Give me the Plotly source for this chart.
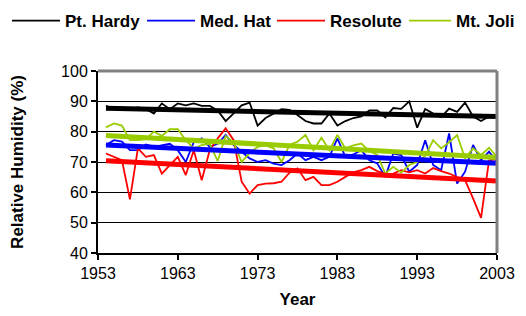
import numpy as np
import plotly.graph_objects as go

years = list(range(1954, 2004))

pt_hardy = [88.5, 87.5, 88, 87.5, 88, 87.5, 86, 89.3, 87.4, 89.3,
            88.7, 89.3, 88.5, 88.5, 87, 83.5, 86, 88.7, 89.6, 82,
            84.5, 86, 87.4, 87.2, 85.5, 83.5, 82.7, 82.7, 86, 82,
            83.5, 84.5, 85, 87, 87, 84.7, 87.8, 87.5, 90, 81.3,
            87.5, 86, 84.8, 87.6, 86.5, 89.6, 85, 83.5, 85, None]

med_hat = [75.6, 77.2, 76.7, 73.9, 73.9, 75.8, 75, 75.5, 76, 73.9,
           70, 76.5, 77.8, 75, 76, 78.9, 75.6, 73.4, 71.2, 70,
           70.6, 69.5, 69, 70.6, 72.8, 70.6, 71.7, 70.6, 71.7, 77.8,
           71.7, 72.5, 73.9, 70.6, 69.5, 65.1, 72.8, 72.3, 66.8, 69,
           77.2, 69, 67.3, 79.4, 62.9, 66.8, 75.6, 70.6, 73.4, 70]

resolute = [72.8, 71.7, 70.6, 57.7, 74.5, 71.7, 72.3, 66.2, 69, 71.7,
            65.7, 73.9, 64, 73.9, 77.8, 81.1, 77.2, 63.5, 59.6, 62.4,
            62.9, 63, 63.5, 66.5, 67.9, 64, 65.1, 62.4, 62.4, 63.5,
            65.1, 66.6, 67.3, 68.4, 67, 66, 66.2, 67.3, 66.6, 67.3,
            66.2, 68, 67, 66.2, 65, 64, 58, 51.6, 70.5, 71]

mt_joli = [81.4, 82.7, 82, 77.2, 77.2, 77.5, 80, 78.6, 80.8, 80.8,
           77.2, 74.5, 75.6, 76, 70.3, 78.6, 76.5, 70, 73, 75,
           75.5, 74.5, 70, 75.6, 76.7, 78.9, 73.9, 78, 73.9, 78.9,
           74.5, 75.5, 76.1, 73.6, 72.3, 66.2, 68.4, 66.5, 69, 70,
           72, 77.2, 74.5, 76.5, 78.9, 71.2, 74.5, 72.3, 74.7, 71.7]

series_names = ["Pt. Hardy", "Med. Hat", "Resolute", "Mt. Joli"]
series_values = [pt_hardy, med_hat, resolute, mt_joli]
series_colors = ["#000000", "#0000FF", "#FF0000", "#99CC00"]
legend_ids = ["legend", "legend", "legend", "legend2"]
legend_widths = [72, 67, 80, None]

x_ticks = [1953, 1963, 1973, 1983, 1993, 2003]

FONT = "Liberation Sans, Arial, sans-serif"

fig = go.Figure()

for name, vals, col, lg, lw in zip(series_names, series_values, series_colors,
                                    legend_ids, legend_widths):
    fig.add_trace(go.Scatter(x=years, y=vals, mode="lines", name=name,
                             line=dict(color=col, width=1.8),
                             connectgaps=False, legend=lg, legendwidth=lw))

# linear trendlines computed from each series
for name, vals, col in zip(series_names, series_values, series_colors):
    xs = np.array([y for y, v in zip(years, vals) if v is not None], dtype=float)
    ys = np.array([v for v in vals if v is not None], dtype=float)
    k, b = np.polyfit(xs, ys, 1)
    tx = np.array([years[0], years[-1]], dtype=float)
    fig.add_trace(go.Scatter(x=tx, y=k * tx + b, mode="lines",
                             line=dict(color=col, width=5),
                             showlegend=False, hoverinfo="skip"))

# page body adds an 8px offset, so the figure is 8px smaller
W, H = 518, 308
ML, MT, PW, PH = 90, 63, 399, 182
legend_common = dict(orientation="h", xref="paper", yref="paper",
                     y=1 + (MT - 13) / PH, xanchor="left", yanchor="middle",
                     font=dict(size=17, family=FONT, color="black", weight="bold"),
                     tracegroupgap=0, bgcolor="rgba(0,0,0,0)")
fig.update_layout(
    width=W, height=H,
    margin=dict(l=ML, r=W - ML - PW, t=MT, b=H - MT - PH, autoexpand=False),
    paper_bgcolor="white", plot_bgcolor="white",
    font=dict(family=FONT, size=16, color="black"),
    showlegend=True,
    legend=dict(x=(-1 - ML) / PW, itemwidth=48, **legend_common),
    legend2=dict(x=(396 - ML) / PW, itemwidth=42, **legend_common),
    shapes=[
        dict(type="line", xref="paper", yref="paper", x0=0, x1=1, y0=1, y1=1,
             line=dict(color="#808080", width=3)),
        dict(type="line", xref="paper", yref="paper", x0=1, x1=1, y0=0, y1=1,
             line=dict(color="#808080", width=3)),
    ],
)

fig.update_xaxes(range=[1953, 2003], tickvals=x_ticks, ticktext=[str(t) for t in x_ticks],
                 ticks="outside", ticklen=5, tickcolor="black", tickwidth=1.5,
                 showline=True, linecolor="black", linewidth=1.5, showgrid=False,
                 zeroline=False, tickfont=dict(size=16, family=FONT), automargin=False,
                 title=dict(text="<b>Year</b>", font=dict(size=17, family=FONT), standoff=12))
fig.update_yaxes(range=[40, 100], dtick=10, tick0=40,
                 ticks="outside", ticklen=5, tickcolor="black", tickwidth=1.5,
                 showline=True, linecolor="black", linewidth=2,
                 showgrid=True, gridcolor="black", gridwidth=1,
                 zeroline=False, tickfont=dict(size=16, family=FONT), automargin=False,
                 title=dict(text="<b>Relative Humidity (%)</b>", font=dict(size=17, family=FONT), standoff=33))

fig.write_html("out.html")
